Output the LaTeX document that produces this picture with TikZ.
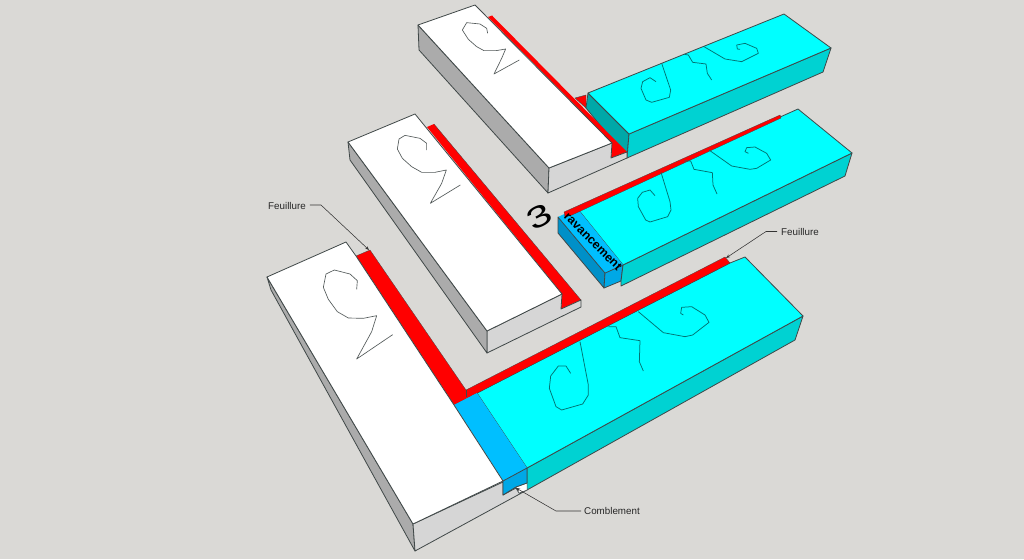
\documentclass[tikz,border=0pt]{standalone}
\usepackage{fontspec}
\setmainfont{Liberation Sans}
\usetikzlibrary{arrows.meta}
\definecolor{bg}{HTML}{DAD9D6}
\definecolor{cy}{HTML}{00FFFF}
\definecolor{cyside}{HTML}{00D2D2}
\definecolor{cydark}{HTML}{00A8A8}
\definecolor{bl}{HTML}{00BFFF}
\definecolor{blfront}{HTML}{00A8E6}
\definecolor{bldark}{HTML}{0090C8}
\definecolor{rd}{HTML}{FF0000}
\definecolor{gl}{HTML}{D6D6D6}
\definecolor{gd}{HTML}{ABABAB}
\definecolor{ed}{HTML}{404848}
\tikzset{
  face/.style={draw=ed,line width=0.8pt,line join=round},
  scrib/.style={draw=ed!90,line width=0.65pt,line join=round},
  scribc/.style={draw=black!55!cy,line width=0.75pt,line join=round},
  lab/.style={font=\fontsize{9.8}{11}\selectfont,text=black!85,inner sep=0pt},
  lead/.style={draw=black!80,line width=0.55pt},
  tip/.style={-{Stealth[length=4pt,width=3pt]}}
}
\begin{document}
\begin{tikzpicture}[x=1pt,y=-1pt]
\useasboundingbox (0,0) rectangle (1024,559);
\fill[bg] (0,0) rectangle (1024,559);

% ---- top pair
\path[fill=rd,draw=ed,line width=0.4pt] (575,98) -- (586,95) -- (586,108) -- cycle;
\path[face,fill=cydark] (588,93) -- (629,134) -- (627,158) -- (586,108) -- cycle;
\path[face,fill=cyside] (629,134) -- (831,48) -- (823,72) -- (627,158) -- cycle;
\path[face,fill=cy] (588,93) -- (784,14) -- (831,48) -- (629,134) -- cycle;
\path[fill=rd] (488,17) -- (492,15.5) -- (627,152) -- (611,158) -- (612,143) -- cycle;
\path[face,fill=gd] (418,25) -- (549,168) -- (548,193) -- (419,50) -- cycle;
\path[face,fill=gl] (549,168) -- (612,143) -- (611,158) -- (627,152) -- (627,158) -- (548,193) -- cycle;
\path[face,fill=white] (418,25) -- (475,5) -- (612,143) -- (549,168) -- cycle;
\draw[scrib,shift={(410,0)},scale=1/3] (233,100) -- (230,85) -- (210,72) -- (170,68) -- (157,90) -- (175,118) -- (200,140) -- (222,152) -- (258,152) -- (287,147) -- (275,175) -- (252,222) -- (328,180);
\draw[scribc,shift={(630,0)},scale=1/3] (95,190) -- (122,270) -- (118,292) -- (65,307) -- (48,300) -- (33,265) -- (38,245) -- (60,233) -- (78,245);
\draw[scribc,shift={(630,0)},scale=1/3] (163,163) -- (175,165) -- (188,187) -- (228,192) -- (232,220) -- (245,240);
\draw[scribc,shift={(630,0)},scale=1/3] (222,140) -- (285,177) -- (335,185) -- (385,160) -- (380,145) -- (345,130) -- (320,135) -- (322,147) -- (330,148);

% ---- middle pair
\path[fill=rd] (427,127) -- (434,124) -- (581,300) -- (561,309) -- (562,294) -- cycle;
\path[face,fill=gl] (487,331) -- (562,294) -- (561,309) -- (581,300) -- (581,307) -- (487,353) -- cycle;
\path[face,fill=gd] (348,142) -- (487,331) -- (487,353) -- (350,160) -- cycle;
\path[face,fill=white] (348,142) -- (415,114) -- (562,294) -- (487,331) -- cycle;
\draw[draw=ed,line width=0.3pt] (434,124) -- (581,300);
\draw[scrib,shift={(385,125)},scale=1/3] (125,75) -- (125,55) -- (105,40) -- (60,31) -- (42,42) -- (37,72) -- (52,100) -- (80,125) -- (110,142) -- (150,142) -- (184,135) -- (170,175) -- (136,235) -- (226,180);

\path[face,fill=bldark] (558,217) -- (605,273) -- (604,288) -- (558,233) -- cycle;
\path[face,fill=blfront] (605,273) -- (623,265) -- (621,281) -- (604,288) -- cycle;
\path[face,fill=cyside] (623,265) -- (852,153) -- (845,176) -- (621,286) -- (621,281) -- cycle;
\path[face,fill=cy] (577,208) -- (798,109) -- (852,153) -- (623,265) -- cycle;
\path[fill=bl] (558,217) -- (577,208) -- (623,265) -- (605,273) -- cycle;
\draw[draw=ed,line width=0.6pt] (558,217) -- (605,273) -- (623,265);
\path[fill=rd,draw=ed,line width=0.3pt] (564,212) -- (780,115) -- (781,118) -- (572,215) -- (565,217) -- cycle;
\draw[scribc,shift={(625,135)},scale=1/3] (108,112) -- (135,200) -- (138,225) -- (128,245) -- (75,261) -- (62,255) -- (40,215) -- (38,190) -- (52,172) -- (75,165) -- (90,182);
\draw[scribc,shift={(625,135)},scale=1/3] (178,78) -- (197,78) -- (207,103) -- (262,113) -- (264,150) -- (276,177);
\draw[scribc,shift={(625,135)},scale=1/3] (252,45) -- (320,93) -- (375,103) -- (395,100) -- (437,75) -- (425,55) -- (390,36) -- (365,38) -- (360,50) -- (370,55);
\node[font=\bfseries\fontsize{12.3}{13}\selectfont,text=black,rotate=-45,inner sep=0pt] (avance) at (593,241.5) {ravancement};
\node[font=\fontsize{35}{37}\selectfont,text=black,rotate=28,inner sep=0pt] (trois) at (539.5,216.5) {\scalebox{1.25}[0.85]{3}};

% ---- large pair
\path[face,fill=cyside] (527,468) -- (803,316) -- (795,340) -- (527,490) -- cycle;
\path[face,fill=cy] (477,393) -- (730,263) -- (745,257) -- (803,316) -- (527,468) -- cycle;
\path[fill=rd,draw=ed,line width=0.3pt] (356,256) -- (370,250) -- (466,390) -- (725,257) -- (730,263) -- (454,405) -- cycle;
\draw[draw=ed,line width=0.4pt] (466,390) -- (466,397);
\path[fill=bl] (454,405) -- (477,393) -- (527,468) -- (503,481) -- cycle;
\path[face,fill=gd] (267,277) -- (413,524) -- (415,551) -- (271,290) -- cycle;
\path[face,fill=gl] (413,524) -- (503,482) -- (503,495) -- (516,488) -- (519,493) -- (527,490) -- (415,551) -- cycle;
\path[fill=white,draw=ed,line width=0.4pt] (516,487) -- (527,483) -- (527,490) -- (519,493) -- cycle;
\path[face,fill=blfront] (503,481) -- (527,468) -- (527,483) -- (516,487) -- (503,495) -- cycle;
\path[face,fill=white] (267,277) -- (346,242) -- (356,256) -- (454,405) -- (503,481) -- (413,524) -- cycle;
\draw[scrib,shift={(300,260)},scale=1/3] (170,88) -- (172,62) -- (150,42) -- (103,30) -- (78,42) -- (70,82) -- (85,118) -- (112,155) -- (145,174) -- (190,175) -- (230,167) -- (215,215) -- (170,297) -- (278,224);
\draw[scribc,shift={(540,290)},scale=1/3] (120,155) -- (145,285) -- (145,315) -- (128,342) -- (65,360) -- (48,350) -- (28,295) -- (32,258) -- (55,228) -- (78,228) -- (92,250);
\draw[scribc,shift={(540,290)},scale=1/3] (205,110) -- (228,110) -- (240,143) -- (300,152) -- (298,215) -- (310,243);
\draw[scribc,shift={(540,290)},scale=1/3] (295,65) -- (370,128) -- (435,140) -- (458,135) -- (507,97) -- (495,75) -- (455,50) -- (425,52) -- (422,70) -- (430,75);

% ---- callouts
\node[lab,anchor=west] (feuA) at (268,206) {Feuillure};
\node[lab,anchor=west] (feuB) at (781,231.5) {Feuillure};
\node[lab,anchor=west] (comb) at (584,511) {Comblement};
\coordinate (feuAend) at (369,250);
\coordinate (feuBend) at (726,258);
\coordinate (combend) at (516,488);
\draw[lead,tip] (feuA.east) ++(4,-1) -- ++(11,0) -- (feuAend);
\draw[lead,tip] (feuB.west) ++(-4,0) -- ++(-11,0) -- (feuBend);
\draw[lead,tip] (comb.west) ++(-3,0) -- ++(-25,0) -- (combend);
\end{tikzpicture}
\end{document}
